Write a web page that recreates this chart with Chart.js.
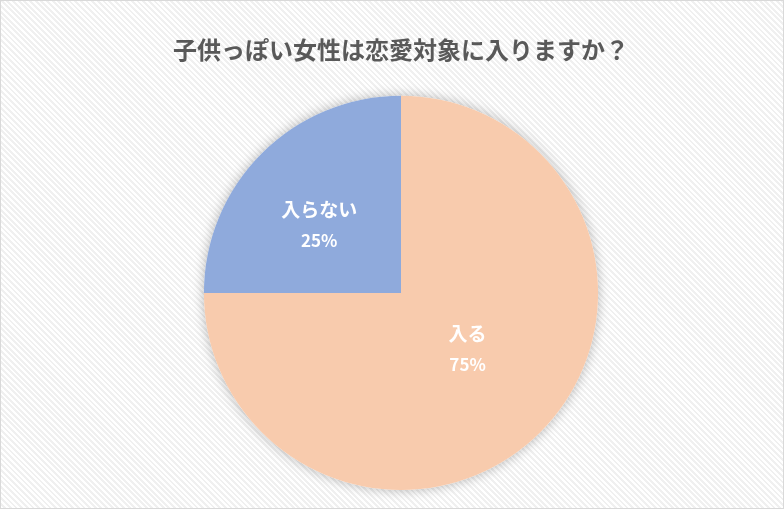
<!DOCTYPE html>
<html>
<head>
<meta charset="utf-8">
<script src="https://cdn.jsdelivr.net/npm/chart.js@4"></script>
<style>
  html, body { margin: 0; padding: 0; background: #fff; }
  #wrap {
    width: 784px; height: 509px; box-sizing: border-box;
    border: 1px solid #d9d9d9;
    background: repeating-linear-gradient(45deg, #ffffff 0px, #ffffff 2px, #f0f0f0 2px, #f0f0f0 4px);
  }
  canvas { display: block; }
</style>
</head>
<body>
<div id="wrap"><canvas id="pie" width="782" height="507"></canvas></div>
<script>
const titleText = '子供っぽい女性は恋愛対象に入りますか？';
const categories = ['入る', '入らない'];
const shares = [75, 25];
const sliceColors = ['#F8CBAD', '#8FAADC'];
// how far out from the centre each label sits (fraction of radius)
const labelRadius = [0.44, 0.54];

const FONT = '"Noto Sans CJK JP", "Noto Sans", sans-serif';

// soft shadow under the whole pie
const pieShadow = {
  id: 'pieShadow',
  beforeDatasetsDraw(chart) {
    const arc = chart.getDatasetMeta(0).data[0];
    if (!arc) return;
    const { x, y, outerRadius } = arc.getProps(['x', 'y', 'outerRadius'], true);
    const ctx = chart.ctx;
    ctx.save();
    ctx.shadowColor = 'rgba(0,0,0,0.28)';
    ctx.shadowBlur = 12;
    ctx.beginPath();
    ctx.arc(x, y, outerRadius, 0, Math.PI * 2);
    ctx.fillStyle = '#ffffff';
    ctx.fill();
    ctx.restore();
  }
};

const sliceLabels = {
  id: 'sliceLabels',
  afterDatasetsDraw(chart) {
    const ctx = chart.ctx;
    const total = shares.reduce((a, b) => a + b, 0);
    chart.getDatasetMeta(0).data.forEach((arc, i) => {
      const p = arc.getProps(['x', 'y', 'startAngle', 'endAngle', 'outerRadius'], true);
      const mid = (p.startAngle + p.endAngle) / 2 - 0.09;
      const r = p.outerRadius * labelRadius[i];
      const cx = p.x + Math.cos(mid) * r;
      const cy = p.y + Math.sin(mid) * r;
      ctx.save();
      ctx.fillStyle = '#ffffff';
      ctx.textAlign = 'center';
      ctx.textBaseline = 'middle';
      ctx.font = 'bold 19px ' + FONT;
      ctx.fillText(categories[i], cx, cy - 15);
      ctx.font = 'bold 17px ' + FONT;
      ctx.fillText(Math.round(shares[i] / total * 100) + '%', cx, cy + 16);
      ctx.restore();
    });
  }
};

new Chart(document.getElementById('pie'), {
  type: 'pie',
  data: {
    labels: categories,
    datasets: [{
      data: shares,
      backgroundColor: sliceColors,
      borderWidth: 0,
    }],
  },
  options: {
    responsive: false,
    animation: false,
    layout: { padding: { top: 0, bottom: 18, left: 18, right: 0 } },
    plugins: {
      legend: { display: false },
      tooltip: { enabled: false },
      title: {
        display: true,
        text: titleText,
        color: '#595959',
        font: { family: FONT, size: 24, weight: 'bold' },
        padding: { top: 34, bottom: 32 },
      },
    },
  },
  plugins: [pieShadow, sliceLabels],
});
</script>
</body>
</html>
